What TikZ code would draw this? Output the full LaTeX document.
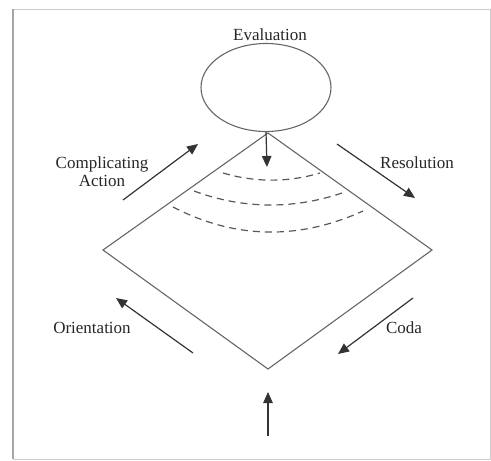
\documentclass[tikz,border=0pt]{standalone}
\usepackage{fontspec}
\setmainfont{Liberation Serif}
\usetikzlibrary{arrows.meta,shapes.geometric}
\begin{document}
\begin{tikzpicture}[x=1pt,y=-1pt,
  lbl/.style={font=\fontsize{17}{19}\selectfont, text=black!85, align=center, inner sep=0pt},
  shapeline/.style={draw=black!60, line width=1.1pt},
  arr/.style={draw=black!80, line width=1.2pt, -{Triangle[length=11pt,width=9.5pt]}},
  dsh/.style={draw=black!65, line width=1.2pt, dash pattern=on 7pt off 5pt}]
\useasboundingbox (0,0) rectangle (491,461);
% frame
\draw[black!20, line width=1pt] (13,9) rectangle (490,459);
\draw[black!35, line width=2pt] (13,9) -- (13,459);
% ellipse
\node[shapeline, ellipse, minimum width=130pt, minimum height=88pt, inner sep=0pt] (eval) at (266,87.5) {};
\node[lbl] (evaltxt) at (270,35) {Evaluation};
% diamond
\coordinate (top) at (268,133);
\coordinate (left) at (103,250);
\coordinate (right) at (432,250);
\coordinate (bot) at (268,369);
\draw[shapeline, line join=miter] (top) -- (right) -- (bot) -- (left) -- cycle;
% down arrow
\coordinate (dtip) at (267,167);
\draw[arr] (eval.south) -- (dtip);
% dashed arcs
\draw[dsh] (223,173) .. controls (255,182.5) and (288,182.5) .. (320,173);
\draw[dsh] (194,191) .. controls (244,209.5) and (295,209.5) .. (345,192);
\draw[dsh] (173,207) .. controls (236,239.7) and (300,239.7) .. (363,211);
% side arrows
\coordinate (ca1) at (123,200); \coordinate (ca2) at (198,144);
\draw[arr] (ca1) -- (ca2);
\node[lbl] (catxt) at (102,172) {Complicating\\[-1pt]Action};
\coordinate (re1) at (337,144); \coordinate (re2) at (415,198);
\draw[arr] (re1) -- (re2);
\node[lbl] (retxt) at (417,163) {Resolution};
\coordinate (or1) at (193,353); \coordinate (or2) at (116,298);
\draw[arr] (or1) -- (or2);
\node[lbl] (ortxt) at (92,328) {Orientation};
\coordinate (co1) at (413,298); \coordinate (co2) at (338,354);
\draw[arr] (co1) -- (co2);
\node[lbl] (cotxt) at (404,328) {Coda};
% bottom arrow
\coordinate (b1) at (268,436); \coordinate (b2) at (268,392);
\draw[arr] (b1) -- (b2);
\end{tikzpicture}
\end{document}
